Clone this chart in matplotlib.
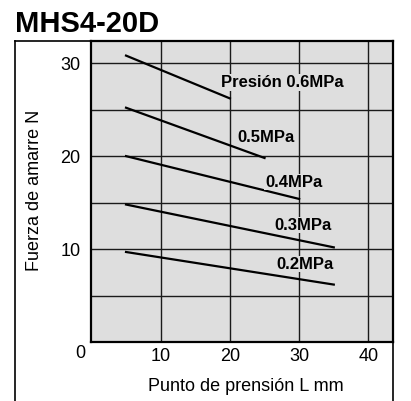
import matplotlib
matplotlib.use("Agg")
import matplotlib.pyplot as plt
from matplotlib.lines import Line2D

plt.rcParams['font.family'] = ['Liberation Sans', 'DejaVu Sans']

# punto de prension L (mm) -> fuerza de amarre (N)
x_start = [5, 5, 5, 5, 5]
x_end = [20, 25, 30, 35, 35]
f_start = [30.8, 25.2, 20.0, 14.8, 9.7]
f_end = [26.2, 19.8, 15.4, 10.2, 6.2]
labels = ['Presión 0.6MPa', '0.5MPa', '0.4MPa', '0.3MPa', '0.2MPa']
label_x = [27.6, 25.2, 29.2, 30.5, 30.9]
label_y = [27.9, 22.0, 17.2, 12.6, 8.4]

fill = '#dedede'

fig = plt.figure(figsize=(4.11, 4.01), dpi=100)
ax = fig.add_axes([0.2224, 0.1464, 0.957 - 0.2224, 0.8985 - 0.1464])
ax.set_facecolor(fill)
ax.set_xlim(0, 43.6)
ax.set_ylim(0, 32.4)

for v in [10, 20, 30, 40]:
    ax.axvline(v, color='#1a1a1a', lw=1.0, zorder=1)
for v in [5, 10, 15, 20, 25, 30]:
    ax.axhline(v, color='#1a1a1a', lw=1.0, zorder=1)

for i in range(len(labels)):
    ax.plot([x_start[i], x_end[i]], [f_start[i], f_end[i]], color='black', lw=1.6, zorder=3)
    ax.text(label_x[i], label_y[i], labels[i], fontsize=12, fontweight='bold',
            ha='center', va='center', zorder=4,
            bbox=dict(facecolor=fill, edgecolor='none', pad=0.5))

ax.set_xticks([10, 20, 30, 40])
ax.set_yticks([10, 20, 30])
ax.tick_params(length=0, labelsize=13)
ax.tick_params(axis='x', pad=4)
ax.tick_params(axis='y', pad=8)
ax.text(-1.65, -1.2, '0', fontsize=13, ha='center', va='center')
for s in ax.spines.values():
    s.set_linewidth(1.6)

ax.set_xlabel('Punto de prensión L mm', fontsize=13, va='center')
ax.xaxis.set_label_coords(0.51, -0.148)
ax.set_ylabel('Fuerza de amarre N', fontsize=13, va='center')
ax.yaxis.set_label_coords(-0.187, 0.505)

# outer frame (open at the bottom)
fig.add_artist(Line2D([0.0365, 0.0365], [0, 0.8985], color='black', lw=1.2))
fig.add_artist(Line2D([0.0365, 0.957], [0.8985, 0.8985], color='black', lw=1.2))
fig.add_artist(Line2D([0.957, 0.957], [0, 0.1464], color='black', lw=1.2))

fig.text(0.0365, 0.975, 'MHS4-20D', fontsize=21, fontweight='bold', ha='left', va='top')

fig.savefig('out.png', dpi=100)
